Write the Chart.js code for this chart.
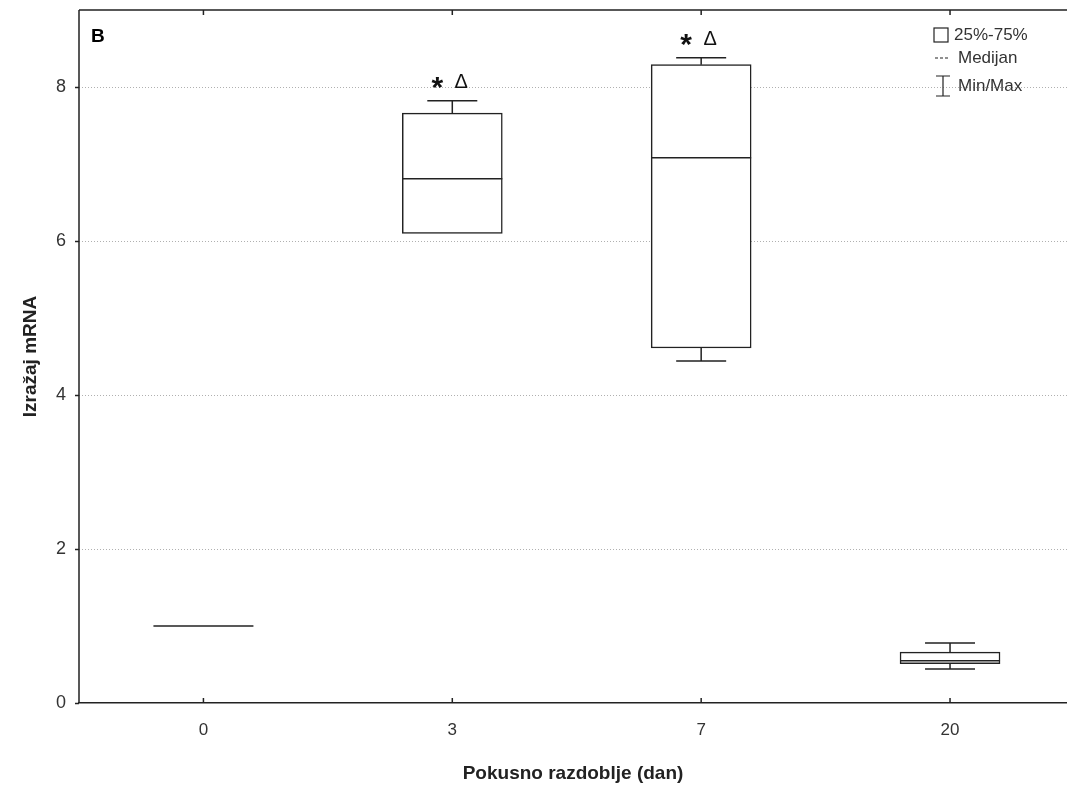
<!DOCTYPE html>
<html>
<head>
<meta charset="utf-8">
<script src="https://cdn.jsdelivr.net/npm/chart.js@4/dist/chart.umd.min.js"></script>
<style>
  html, body { margin: 0; padding: 0; background: #fff; overflow: hidden; }
  #wrap { width: 1067px; height: 785px; }
</style>
</head>
<body>
<div id="wrap"><canvas id="myChart"></canvas></div>
<script>
// data
const days = ['0', '3', '7', '20'];
const minVals = [1.0, 6.10, 4.44, 0.44];
const q1Vals = [1.0, 6.10, 4.61, 0.51];
const medianVals = [1.0, 6.81, 7.08, 0.55];
const q3Vals = [1.0, 7.66, 8.29, 0.66];
const maxVals = [1.0, 7.82, 8.38, 0.78];
const marks = ['', '* Δ', '* Δ', ''];
const yTicks = [0, 2, 4, 6, 8];

const font = 'Liberation Sans, Arial, sans-serif';

// medians, whiskers, frame, annotations and legend
const boxExtras = {
  id: 'boxExtras',
  afterDatasetsDraw(chart) {
    const ctx = chart.ctx;
    const x = chart.scales.x;
    const y = chart.scales.y;
    const area = chart.chartArea;
    const halfBox = 50;
    const halfCap = 25;
    ctx.save();
    ctx.strokeStyle = '#222';
    ctx.lineWidth = 1.5;
    ctx.setLineDash([]);
    days.forEach((d, i) => {
      const cx = x.getPixelForValue(i);
      const yMed = y.getPixelForValue(medianVals[i]);
      ctx.beginPath();
      ctx.moveTo(cx - halfBox, yMed);
      ctx.lineTo(cx + halfBox, yMed);
      ctx.stroke();
      // upper whisker
      if (maxVals[i] > q3Vals[i]) {
        const yMax = y.getPixelForValue(maxVals[i]);
        ctx.beginPath();
        ctx.moveTo(cx, y.getPixelForValue(q3Vals[i]));
        ctx.lineTo(cx, yMax);
        ctx.moveTo(cx - halfCap, yMax);
        ctx.lineTo(cx + halfCap, yMax);
        ctx.stroke();
      }
      // lower whisker
      if (minVals[i] < q1Vals[i]) {
        const yMin = y.getPixelForValue(minVals[i]);
        ctx.beginPath();
        ctx.moveTo(cx, y.getPixelForValue(q1Vals[i]));
        ctx.lineTo(cx, yMin);
        ctx.moveTo(cx - halfCap, yMin);
        ctx.lineTo(cx + halfCap, yMin);
        ctx.stroke();
      }
      // x tick marks pointing inwards
      ctx.beginPath();
      ctx.moveTo(cx, area.bottom);
      ctx.lineTo(cx, area.bottom - 5);
      ctx.moveTo(cx, area.top);
      ctx.lineTo(cx, area.top + 5);
      ctx.stroke();
      // significance marks
      if (marks[i]) {
        const yTop = y.getPixelForValue(maxVals[i]) - 17;
        ctx.fillStyle = '#111';
        ctx.textBaseline = 'middle';
        ctx.textAlign = 'center';
        ctx.font = 'bold 30px ' + font;
        ctx.fillText('*', cx - 15, yTop + 5);
        ctx.font = '20px ' + font;
        ctx.fillText('Δ', cx + 9, yTop - 1);
      }
    });
    // frame lines
    ctx.beginPath();
    ctx.moveTo(area.left, area.top);
    ctx.lineTo(area.right, area.top);
    ctx.moveTo(area.left, area.top);
    ctx.lineTo(area.left, area.bottom);
    ctx.stroke();

    // panel letter
    ctx.fillStyle = '#000';
    ctx.textAlign = 'left';
    ctx.textBaseline = 'middle';
    ctx.font = 'bold 19px ' + font;
    ctx.fillText('B', 91, 37);

    // legend
    ctx.fillStyle = '#333';
    ctx.font = '17px ' + font;
    ctx.lineWidth = 1.2;
    ctx.strokeStyle = '#222';
    ctx.strokeRect(934, 28, 14, 14);
    ctx.fillText('25%-75%', 954, 35);
    ctx.setLineDash([3, 2]);
    ctx.beginPath();
    ctx.moveTo(935, 58);
    ctx.lineTo(949, 58);
    ctx.stroke();
    ctx.setLineDash([]);
    ctx.fillText('Medijan', 958, 58);
    ctx.beginPath();
    ctx.moveTo(936, 76);
    ctx.lineTo(950, 76);
    ctx.moveTo(943, 76);
    ctx.lineTo(943, 96);
    ctx.moveTo(936, 96);
    ctx.lineTo(950, 96);
    ctx.stroke();
    ctx.fillText('Min/Max', 958, 86);
    ctx.restore();
  }
};

const ctx = document.getElementById('myChart');
const myChart = new Chart(ctx, {
  type: 'bar',
  data: {
    datasets: [{
      label: '25%-75%',
      data: days.map((d, i) => ({ x: i, y: [q1Vals[i], q3Vals[i]] })),
      backgroundColor: '#fff',
      borderColor: '#222',
      borderWidth: 1.5,
      borderSkipped: false,
      barThickness: 100
    }]
  },
  options: {
    responsive: true,
    maintainAspectRatio: false,
    animation: false,
    layout: { padding: { top: 10, right: 0, left: 0, bottom: 0 } },
    plugins: {
      legend: { display: false },
      tooltip: { enabled: false }
    },
    scales: {
      x: {
        type: 'linear',
        offset: false,
        min: -0.5,
        max: 3.47,
        afterBuildTicks: (scale) => {
          scale.ticks = days.map((d, i) => ({ value: i }));
        },
        afterFit: (scale) => {
          scale.height = 82;
          scale.paddingLeft = 0;
          scale.paddingRight = 0;
        },
        ticks: {
          callback: (v) => days[v],
          color: '#333',
          font: { family: font, size: 17 },
          padding: 9,
          maxRotation: 0
        },
        grid: { display: false },
        border: { display: true, color: '#222', width: 1.5 },
        title: {
          display: true,
          text: 'Pokusno razdoblje (dan)',
          color: '#222',
          font: { family: font, size: 19, weight: 'bold' },
          padding: { top: 25, bottom: 0 }
        }
      },
      y: {
        min: 0,
        max: 9,
        afterBuildTicks: (scale) => {
          scale.ticks = yTicks.map(v => ({ value: v }));
        },
        afterFit: (scale) => {
          scale.width = 79;
          scale.paddingTop = 0;
          scale.paddingBottom = 0;
        },
        ticks: {
          color: '#333',
          font: { family: font, size: 18 },
          padding: 9
        },
        grid: {
          color: (c) => c.tick && c.tick.value === 0 ? 'rgba(0,0,0,0)' : '#b0b0b0',
          lineWidth: 1,
          tickLength: 4,
          tickColor: '#222',
          tickBorderDash: [],
          tickWidth: 1.5
        },
        border: { display: false, dash: [1, 2] },
        title: {
          display: true,
          text: 'Izražaj mRNA',
          color: '#222',
          font: { family: font, size: 19, weight: 'bold' },
          padding: { top: 19, bottom: 0 }
        }
      }
    }
  },
  plugins: [boxExtras]
});
</script>
</body>
</html>
